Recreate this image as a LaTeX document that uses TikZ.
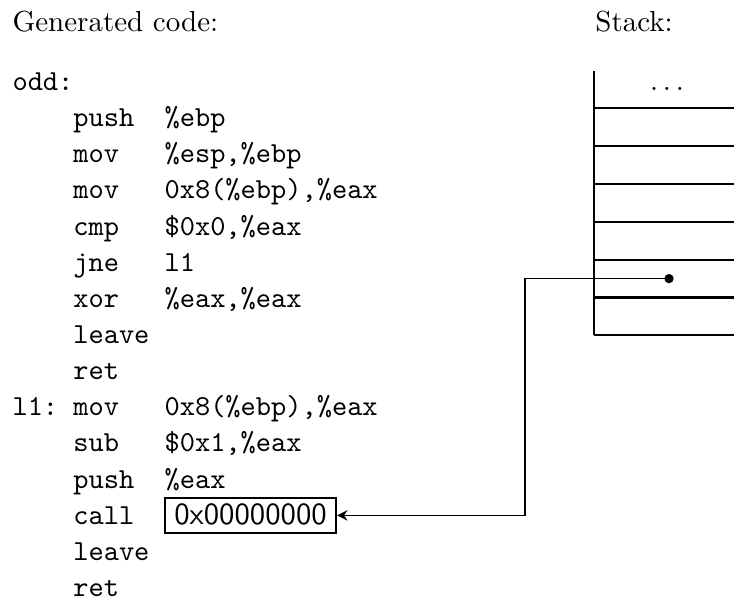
\documentclass[tikz,border=0pt]{standalone}
\usepackage{tikz}
\usetikzlibrary{positioning,calc}
\usetikzlibrary{arrows.meta}
\tikzstyle{heading} = [anchor=base west, inner sep=0pt]
\tikzstyle{asm} = [anchor=base west, inner sep=0pt, font=\ttfamily]
\tikzstyle{addrbox} = [draw=black, line width=0.7pt, anchor=base west, inner xsep=0pt, inner ysep=3pt,
text height=6.1pt, text depth=0pt, minimum width=2.073cm, font=\sffamily\fontsize{10.6}{12}\selectfont]
\tikzstyle{slot} = [line width=0.7pt]
\tikzstyle{arrow} = [line width=0.55pt,-{Stealth[length=3.6pt,width=3.6pt,inset=1.2pt]}]

\begin{document}
\begin{tikzpicture}
\useasboundingbox (0,0) rectangle (8.897,-7.248);
% titles
\node (gen) at (0.145,-0.376) [heading] {Generated code:};
\node (stk) at (7.21,-0.376) [heading] {Stack:};
% code
\node (lodd) at (0.145,-1.096) [asm] {odd:};
\node (o1) at (0.882,-1.534) [asm] {push};  \node (a1) at (1.988,-1.534) [asm] {\%ebp};
\node (o2) at (0.882,-1.972) [asm] {mov};   \node (a2) at (1.988,-1.972) [asm] {\%esp,\%ebp};
\node (o3) at (0.882,-2.411) [asm] {mov};   \node (a3) at (1.988,-2.411) [asm] {0x8(\%ebp),\%eax};
\node (o4) at (0.882,-2.849) [asm] {cmp};   \node (a4) at (1.988,-2.849) [asm] {\$0x0,\%eax};
\node (o5) at (0.882,-3.287) [asm] {jne};   \node (a5) at (1.988,-3.287) [asm] {l1};
\node (o6) at (0.882,-3.725) [asm] {xor};   \node (a6) at (1.988,-3.725) [asm] {\%eax,\%eax};
\node (o7) at (0.882,-4.163) [asm] {leave};
\node (o8) at (0.882,-4.602) [asm] {ret};
\node (ll1) at (0.145,-5.040) [asm] {l1:};
\node (o9) at (0.882,-5.040) [asm] {mov};   \node (a9) at (1.988,-5.040) [asm] {0x8(\%ebp),\%eax};
\node (o10) at (0.882,-5.478) [asm] {sub};  \node (a10) at (1.988,-5.478) [asm] {\$0x1,\%eax};
\node (o11) at (0.882,-5.916) [asm] {push}; \node (a11) at (1.988,-5.916) [asm] {\%eax};
\node (o12) at (0.882,-6.354) [asm] {call};
\node (addr) at (1.988,-6.354) [addrbox] {0x00000000};
\node (o13) at (0.882,-6.793) [asm] {leave};
\node (o14) at (0.882,-7.231) [asm] {ret};
% stack
\draw[slot] (7.2,-0.855) -- (7.2,-4.0645);
\foreach \k in {1,...,7}
  \draw[slot] (7.2,-0.855-0.4585*\k) -- (8.897,-0.855-0.4585*\k);
\node (top) at (8.085,-1.084) {$\ldots$};
\coordinate (ptr) at (8.109,-3.377);
\coordinate (bend) at (6.364,-3.377);
\fill (ptr) circle (1.6pt);
\draw[arrow] (ptr) -- (bend) |- (addr.east);
\end{tikzpicture}
\end{document}
